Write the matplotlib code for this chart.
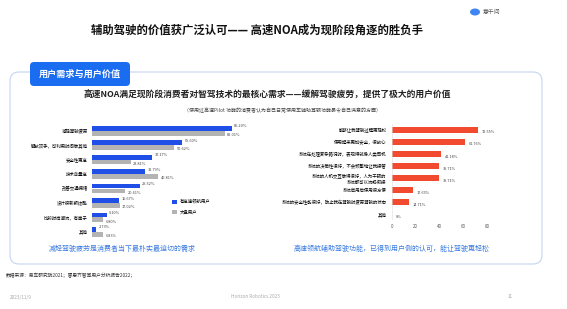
import matplotlib.pyplot as plt
from matplotlib.patches import FancyBboxPatch, Ellipse

plt.rcParams['font.family'] = ['Noto Sans CJK SC', 'DejaVu Sans']

W, H = 567, 309

# left chart: what users want from highway NOA
need_labels = ['减轻驾驶疲劳', '解放双手，可利用时间做其他', '安全性更高', '技术含量高',
               '改善交通拥堵', '设计很新颖炫酷', '比较时尚潮流，有面子', '其他']
noa_users = [86.20, 55.60, 37.17, 32.79, 29.52, 16.67, 9.10, 2.73]
all_users = [82.01, 50.62, 23.81, 40.81, 20.61, 17.02, 6.80, 6.83]
legend_names = ['有高速领航用户', '大盘用户']

# right chart: most satisfying aspects
value_labels = ['能够让我驾驶过程更轻松', '使用起来更加安全，很放心',
                '系统在处理复杂路况时，表现得就像人类司机', '系统的决策性很好，不会频繁地让我接管',
                '系统的人机交互做得很好，人为干预的\n系统都可以流畅衔接', '系统启用后使用很方便',
                '系统的安全性能很好，防止我在驾驶时疲劳驾驶的状态', '其他']
value_pct = [72.55, 61.76, 41.18, 39.71, 39.71, 17.65, 14.71, 0]
value_ticks = [0, 20, 40, 60, 80]

BLUE = '#1f4fe6'
GREY = '#b3b3b3'
RED = '#f24a2e'
TEXT_BLUE = '#3a7be0'


def box(x0, y0, x1, y1):
    # pixel box (top-left origin) -> figure rect
    return [x0 / W, 1 - y1 / H, (x1 - x0) / W, (y1 - y0) / H]


fig = plt.figure(figsize=(W / 100, H / 100), dpi=100)
fig.patch.set_facecolor('white')

# background layer for shapes and slide text
bg = fig.add_axes([0, 0, 1, 1])
bg.set_xlim(0, W)
bg.set_ylim(H, 0)
bg.axis('off')

bg.add_patch(FancyBboxPatch((10, 72), 532, 192, boxstyle='round,pad=0,rounding_size=9',
                            fc='white', ec='#c9d9f2', lw=0.9))
bg.add_patch(FancyBboxPatch((30, 62), 100, 24, boxstyle='round,pad=0,rounding_size=4',
                            fc='#1a6cf0', ec='none'))
bg.text(80, 74, '用户需求与用户价值', color='white', fontsize=6.6, fontweight='bold',
        ha='center', va='center')

# logo
bg.add_patch(Ellipse((475, 12), 10, 7, fc='#3f86f2', ec='none'))
bg.text(483, 12, '意千问', fontsize=4.2, color='#555555', va='center')

bg.text(257, 30, '辅助驾驶的价值获广泛认可—— 高速NOA成为现阶段角逐的胜负手',
        fontsize=8.2, fontweight='bold', ha='center', va='center', color='#111111')
bg.text(267, 95, '高速NOA满足现阶段消费者对智驾技术的最核心需求——缓解驾驶疲劳，提供了极大的用户价值',
        fontsize=6.3, fontweight='bold', ha='center', va='center', color='#222222')
bg.text(282, 110, '（使用过高速Pilot 功能的消费者认为自己日常使用车辅助驾驶功能最令自己满意的方面）',
        fontsize=3.6, ha='center', va='center', color='#444444')

bg.text(122, 249, '减轻驾驶疲劳是消费者当下最朴实最迫切的需求', fontsize=5.0,
        color=TEXT_BLUE, ha='center', va='center')
bg.text(392, 249, '高速领航辅助驾驶功能，已得到用户侧的认可，能让驾驶更轻松', fontsize=5.0,
        color=TEXT_BLUE, ha='center', va='center')

bg.text(6, 276, '数据来源：易车研究院2021；睿思齐智驾用户分析报告2022；', fontsize=3.4,
        color='#333333', va='center')
bg.text(10, 297, '2023/11/9', fontsize=3.4, color='#aaaaaa', va='center')
bg.text(255, 297, 'Horizon Robotics 2023', fontsize=3.4, color='#aaaaaa', va='center', ha='center')
bg.text(508, 297, '11', fontsize=3.4, color='#aaaaaa', va='center')

# left chart
rows = range(len(need_labels))
axl = fig.add_axes(box(92, 123.5, 254, 239))
axl.barh([r - 0.17 for r in rows], noa_users, height=0.33, color=BLUE, label=legend_names[0])
axl.barh([r + 0.17 for r in rows], all_users, height=0.33, color=GREY, label=legend_names[1])
for r in rows:
    axl.text(noa_users[r] + 1.5, r - 0.3, f'{noa_users[r]:.2f}%', fontsize=2.8,
             va='center', color='#444444')
    axl.text(all_users[r] + 1.5, r + 0.3, f'{all_users[r]:.2f}%', fontsize=2.8,
             va='center', color='#444444')
axl.set_xlim(0, 100)
axl.set_ylim(7.5, -0.5)
axl.set_yticks(list(rows))
axl.set_yticklabels(need_labels, fontsize=3.2)
axl.tick_params(axis='y', length=0, pad=3)
axl.set_xticks([])
for s in axl.spines.values():
    s.set_visible(False)
axl.legend(loc='upper left', bbox_to_anchor=(0.47, 0.38), frameon=False, fontsize=3.2,
           handlelength=1.0, handleheight=1.0, labelspacing=1.2)

# right chart
axr = fig.add_axes(box(392, 124, 493, 220.3))
axr.barh(list(rows), value_pct, height=0.5, color=RED)
for r in rows:
    txt = '0%' if value_pct[r] == 0 else f'{value_pct[r]:.2f}%'
    axr.text(value_pct[r] + 3, r + 0.2, txt, fontsize=2.8, va='center', color='#444444')
axr.set_xlim(0, 85)
axr.set_ylim(7.5, -0.5)
axr.set_yticks(list(rows))
axr.set_yticklabels(value_labels, fontsize=3.2)
axr.set_xticks(value_ticks)
axr.tick_params(axis='x', labelsize=3.2, length=0, pad=3, colors='#555555')
axr.tick_params(axis='y', length=0, pad=4)
for s in axr.spines.values():
    s.set_visible(False)
axr.axvline(0, color='#dddddd', lw=0.4)

fig.savefig('out.png', dpi=100)
